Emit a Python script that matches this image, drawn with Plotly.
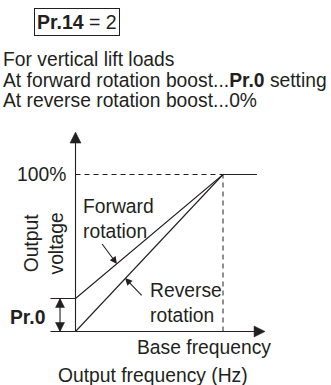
import math
import plotly.graph_objects as go

# V/F pattern for Pr.14 = 2 (vertical lift loads)
freq_ratio = [0.0, 1.0, 1.23]          # output frequency as a fraction of base frequency
forward_voltage = [21.0, 100.0, 100.0]  # % output voltage, forward rotation (boost = Pr.0)
reverse_freq = [0.0, 1.0]
reverse_voltage = [0.0, 100.0]          # % output voltage, reverse rotation (boost = 0%)
boost_pct = forward_voltage[0]
base_freq = 1.0
x_axis_end = 1.285
y_axis_end = 127.0

W, H = 331, 385
INK = "#231f20"
FONT = "Liberation Sans, Arial, Helvetica, sans-serif"
FS = 19.3

X0, X1 = -0.5119, 1.7322
Y0, Y1 = -34.08, 211.15
SX = W / (X1 - X0)   # pixels per x unit
SY = H / (Y1 - Y0)   # pixels per y unit
BRACKET_X = -0.105


def px(x):
    return x / W


def py(y):
    return 1 - y / H


def head_path(tx, ty, ux, uy, length, half):
    """Filled arrowhead with its tip at data point (tx, ty), pointing along (ux, uy)."""
    n = math.hypot(ux, uy)
    ux, uy = ux / n, uy / n
    bx, by = -ux * length, -uy * length          # tip -> base centre, pixels
    nx, ny = -uy * half, ux * half               # perpendicular, pixels
    pts = [(0, 0), (bx + nx, by + ny), (bx - nx, by - ny)]
    coords = [(tx + p[0] / SX, ty + p[1] / SY) for p in pts]
    return "M " + " L ".join(f"{x:.5f},{y:.5f}" for x, y in coords) + " Z"


fig = go.Figure()

# axes
fig.add_trace(go.Scatter(x=[0, x_axis_end - 6 / SX], y=[0, 0], mode="lines",
                         line=dict(color=INK, width=1.1), hoverinfo="skip"))
fig.add_trace(go.Scatter(x=[0, 0], y=[0, y_axis_end - 6 / SY], mode="lines",
                         line=dict(color=INK, width=1.1), hoverinfo="skip"))

fig.add_trace(go.Scatter(x=freq_ratio, y=forward_voltage, mode="lines",
                         line=dict(color=INK, width=1.1), hoverinfo="skip"))
fig.add_trace(go.Scatter(x=reverse_freq, y=reverse_voltage, mode="lines",
                         line=dict(color=INK, width=1.1), hoverinfo="skip"))

# Pr.0 double arrow shaft
fig.add_trace(go.Scatter(x=[BRACKET_X, BRACKET_X], y=[0, boost_pct], mode="lines",
                         line=dict(color=INK, width=1.1), hoverinfo="skip"))

arrow_style = dict(xref="x", yref="y", fillcolor=INK, line=dict(color=INK, width=0.5))
fig.add_shape(type="path", path=head_path(x_axis_end, 0, 1, 0, 11, 5.5), **arrow_style)
fig.add_shape(type="path", path=head_path(0, y_axis_end, 0, 1, 11, 5.5), **arrow_style)
fig.add_shape(type="path", path=head_path(BRACKET_X, boost_pct, 0, 1, 9, 4.5), **arrow_style)
fig.add_shape(type="path", path=head_path(BRACKET_X, 0, 0, -1, 9, 4.5), **arrow_style)

# dashed guides at 100% and at base frequency
fig.add_shape(type="line", x0=0, x1=base_freq, y0=100, y1=100, xref="x", yref="y",
              line=dict(color=INK, width=1, dash="5px,4px"))
fig.add_shape(type="line", x0=base_freq, x1=base_freq, y0=0, y1=100, xref="x", yref="y",
              line=dict(color=INK, width=1, dash="5px,4px"))

# Pr.0 bracket ticks
fig.add_shape(type="line", x0=-0.17, x1=0, y0=boost_pct, y1=boost_pct, xref="x", yref="y",
              line=dict(color=INK, width=1))
fig.add_shape(type="line", x0=-0.17, x1=0, y0=0, y1=0, xref="x", yref="y",
              line=dict(color=INK, width=1))

ann = []
# pointer arrows
ann.append(dict(x=0.281, y=43.0, ax=0.173, ay=56.7, xref="x", yref="y", axref="x",
                ayref="y", text="", showarrow=True, arrowhead=2, arrowsize=1.3,
                arrowwidth=1.1, arrowcolor=INK))
ann.append(dict(x=0.336, y=34.0, ax=0.458, ay=22.0, xref="x", yref="y", axref="x",
                ayref="y", text="", showarrow=True, arrowhead=2, arrowsize=1.3,
                arrowwidth=1.1, arrowcolor=INK))


def label(text, x, y, xanchor="center", size=FS, angle=0, align="center"):
    ann.append(dict(text=text, x=px(x), y=py(y), xref="paper", yref="paper",
                    xanchor=xanchor, yanchor="middle", showarrow=False, textangle=angle,
                    align=align, font=dict(family=FONT, size=size, color=INK)))


# header
ann.append(dict(text="<b>Pr.14</b> = 2", x=px(77), y=py(22.5), xref="paper", yref="paper",
                xanchor="center", yanchor="middle", showarrow=False,
                bordercolor=INK, borderwidth=1, borderpad=2,
                font=dict(family=FONT, size=19.5, color=INK)))
label("For vertical lift loads", 0.5, 59.5, xanchor="left")
label("At forward rotation boost...<b>Pr.0</b> setting", 0.5, 80.5, xanchor="left")
label("At reverse rotation boost...0%", 0.5, 100.5, xanchor="left")

# axis labels
label("100%", 68, 174.5, xanchor="right")
label("<b>Pr.0</b>", 27.5, 317)
label("Output<br>voltage", 43.5, 243, angle=-90)
label("Forward<br>rotation", 80.5, 218.5, xanchor="left", align="left")
label("Reverse<br>rotation", 147.5, 302.5, xanchor="left", align="left")
label("Base frequency", 204, 347)
label("Output frequency (Hz)", 153, 375)

fig.update_layout(
    width=W, height=H, margin=dict(l=0, r=0, t=0, b=0),
    paper_bgcolor="white", plot_bgcolor="white", showlegend=False,
    xaxis=dict(range=[X0, X1], visible=False, fixedrange=True),
    yaxis=dict(range=[Y0, Y1], visible=False, fixedrange=True),
    annotations=ann,
)

fig.write_html("out.html", config={"displayModeBar": False})
